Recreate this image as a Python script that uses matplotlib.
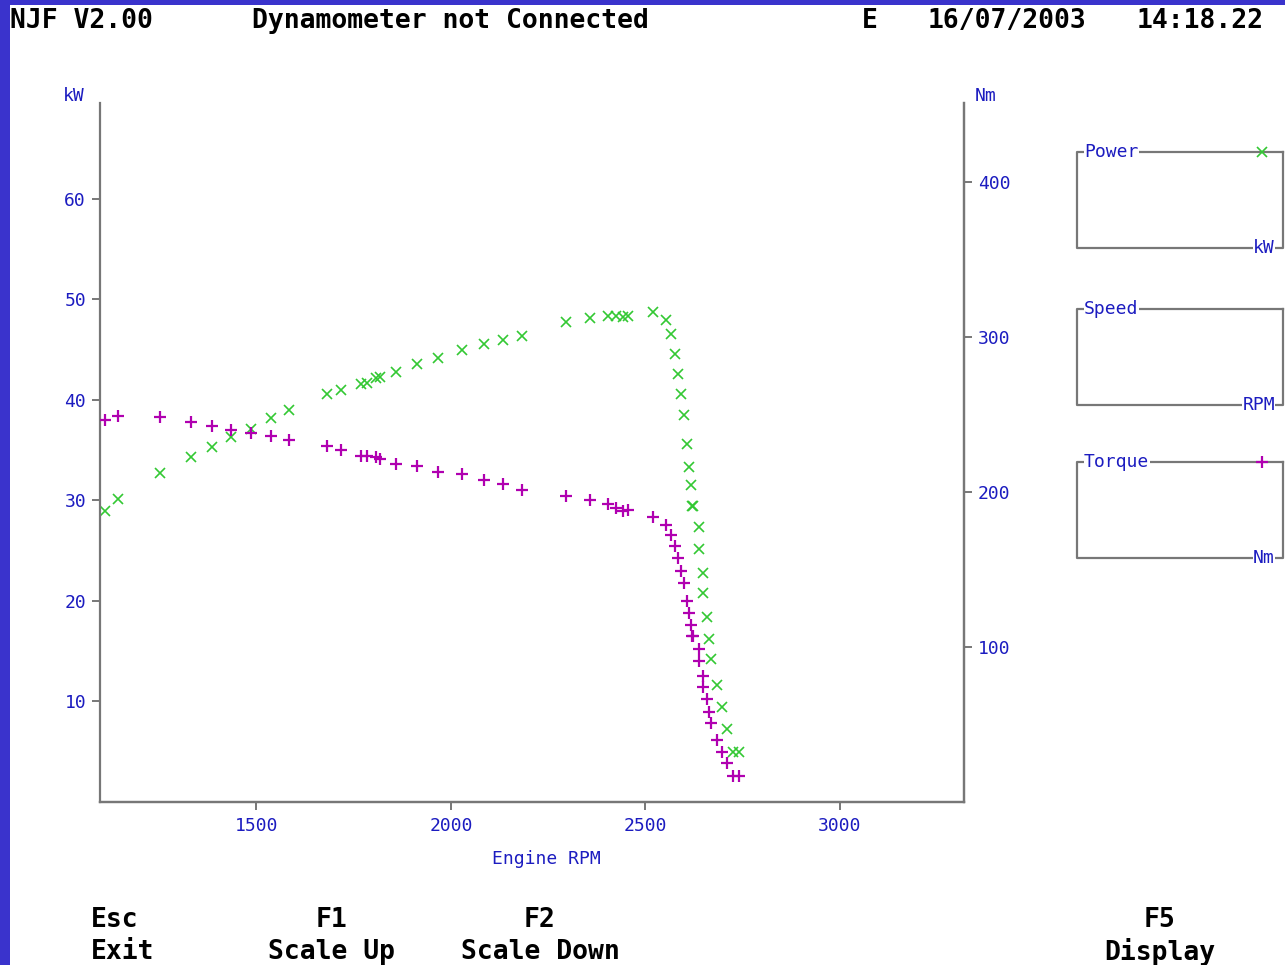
import matplotlib
matplotlib.use("Agg")
import matplotlib.pyplot as plt
from matplotlib.lines import Line2D
from matplotlib.patches import Rectangle

# readings taken off the dyno screen
rpm = [1112, 1145, 1253, 1331, 1387, 1435, 1486, 1537, 1584, 1682,
       1718, 1770, 1785, 1807, 1817, 1858, 1914, 1966, 2028, 2085,
       2135, 2183, 2296, 2357, 2404, 2425, 2442, 2455, 2519, 2554,
       2566, 2576, 2585, 2591, 2600, 2606, 2612, 2617, 2620, 2622,
       2638, 2639, 2647, 2648, 2658, 2663, 2669, 2684, 2698, 2710,
       2725, 2741]
power_kw = [28.96, 30.13, 32.75, 34.34, 35.34, 36.33, 37.10, 38.17, 38.96, 40.56,
            40.96, 41.55, 41.71, 42.18, 42.31, 42.75, 43.55, 44.14, 44.94, 45.54,
            45.94, 46.36, 47.73, 48.13, 48.36, 48.36, 48.29, 48.36, 48.73, 47.96,
            46.56, 44.57, 42.55, 40.56, 38.53, 35.58, 33.35, 31.55, 29.43, 29.40,
            27.34, 25.18, 22.76, 20.77, 18.38, 16.16, 14.19, 11.57, 9.44, 7.19,
            4.96, 4.96]
torque_nm = [246.2, 249.0, 247.9, 244.9, 242.3, 239.5, 237.6, 236.1, 233.2, 229.3,
             226.8, 222.9, 222.9, 222.0, 221.1, 218.0, 216.4, 212.5, 211.5, 207.4,
             204.6, 200.9, 197.0, 194.4, 191.7, 189.5, 187.3, 188.0, 183.7, 178.7,
             171.8, 164.7, 156.9, 149.0, 141.0, 129.2, 121.8, 114.1, 107.0, 106.6,
             98.6, 90.8, 81.1, 74.0, 66.1, 58.0, 50.5, 39.8, 32.2, 25.1,
             16.5, 16.5]

x_ticks = [1500, 2000, 2500, 3000]
kw_ticks = [10, 20, 30, 40, 50, 60]
nm_ticks = [100, 200, 300, 400]

header = [("NJF V2.00", 10), ("Dynamometer not Connected", 252), ("E", 862),
          ("16/07/2003", 928), ("14:18.22", 1137)]
menu = [("Esc", "Exit", 91, "left"), ("F1", "Scale Up", 331, "center"),
        ("F2", "Scale Down", 540, "center"), ("F5", "Display", 1160, "center")]

GREEN = "#33c833"
MAGENTA = "#b000b0"
BLUE = "#1c1cc0"
GREY = "#777777"
FRAME = "#3a33cc"
W, H = 1285, 965

fig = plt.figure(figsize=(W / 100, H / 100), dpi=100)
fig.patch.set_facecolor("white")

ax = fig.add_axes([100 / W, 1 - 801.5 / H, 864 / W, 698.9 / H])
ax.plot(rpm, power_kw, linestyle="none", marker="x", markersize=7.2,
        markeredgewidth=1.2, color=GREEN)
ax.set_xlim(1098, 3319)
ax.set_ylim(0, 69.6)
ax.set_xticks(x_ticks)
ax.set_yticks(kw_ticks)

ax2 = ax.twinx()
ax2.plot(rpm, torque_nm, linestyle="none", marker="+", markersize=8.2,
         markeredgewidth=1.6, color=MAGENTA)
ax2.set_ylim(0, 451)
ax2.set_yticks(nm_ticks)

for a in (ax, ax2):
    a.set_facecolor("none")
    a.spines["top"].set_visible(False)
    for s in ("left", "right", "bottom"):
        a.spines[s].set_color(GREY)
        a.spines[s].set_linewidth(1.6)
    a.tick_params(colors=GREY, labelcolor=BLUE, labelsize=13, length=6,
                  width=1.4, pad=4)
    for lab in a.get_xticklabels() + a.get_yticklabels():
        lab.set_family("DejaVu Sans Mono")
ax.tick_params(axis="x", pad=5)
ax2.spines["left"].set_visible(False)

# screen overlay in pixel units
ov = fig.add_axes([0, 0, 1, 1])
ov.set_xlim(0, W)
ov.set_ylim(H, 0)
ov.axis("off")
ov.patch.set_alpha(0)

ov.add_patch(Rectangle((0, 0), 10, H, color=FRAME, lw=0))
ov.add_patch(Rectangle((0, 0), W, 5, color=FRAME, lw=0))

mono = dict(family="DejaVu Sans Mono", fontsize=19, fontweight="bold", color="black")
for txt, x in header:
    ov.text(x, 21, txt, ha="left", va="center", **mono)
for top, bottom, x, ha in menu:
    ov.text(x, 920, top, ha=ha, va="center", **mono)
    ov.text(x, 952, bottom, ha=ha, va="center", **mono)

small = dict(family="DejaVu Sans Mono", fontsize=13, color=BLUE)
ov.text(74, 96, "kW", ha="center", va="center", **small)
ov.text(986, 96, "Nm", ha="center", va="center", **small)
ov.text(546, 859, "Engine RPM", ha="center", va="center", **small)

# legend panels
panels = [("Power", "kW", 152, 248, "x", GREEN),
          ("Speed", "RPM", 309, 405, None, None),
          ("Torque", "Nm", 462, 558, "+", MAGENTA)]
box = dict(facecolor="white", edgecolor="none", pad=0.2)
for name, unit, y0, y1, mk, col in panels:
    ov.add_line(Line2D([1283, 1077, 1077, 1283, 1283], [y0, y0, y1, y1, y0],
                       color=GREY, lw=1.6))
    ov.text(1084, y0, name, ha="left", va="center", bbox=box, **small)
    ov.text(1275, y1, unit, ha="right", va="center", bbox=box, **small)
    if mk:
        ov.add_patch(Rectangle((1250, y0 - 3), 24, 6, color="white", lw=0))
        ov.plot([1262], [y0], marker=mk, markersize=7 if mk == "x" else 8,
                markeredgewidth=1.2 if mk == "x" else 1.6, color=col)

fig.savefig("out.png", dpi=100, facecolor="white")
